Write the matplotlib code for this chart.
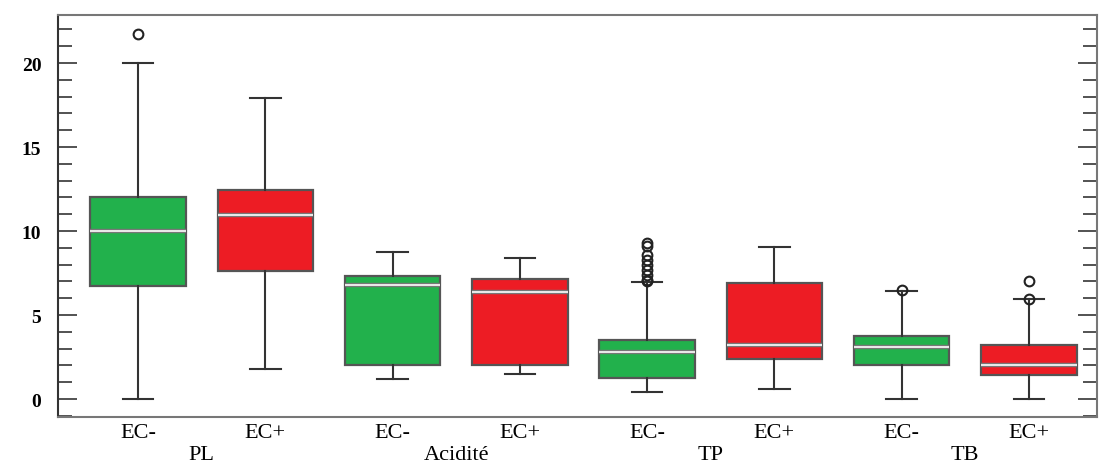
import matplotlib
matplotlib.use("Agg")
import matplotlib.pyplot as plt
import matplotlib.patheffects as pe
from matplotlib.ticker import MultipleLocator

# values
groups = ["PL", "Acidité", "TP", "TB"]
labels = ["EC-", "EC+", "EC-", "EC+", "EC-", "EC+", "EC-", "EC+"]
whislo = [0.0, 1.8, 1.2, 1.5, 0.4, 0.6, 0.0, 0.0]
q1 = [6.7, 7.65, 2.0, 2.0, 1.27, 2.4, 2.0, 1.43]
med = [10.0, 10.95, 6.8, 6.35, 2.82, 3.2, 3.1, 2.05]
q3 = [12.0, 12.45, 7.35, 7.15, 3.52, 6.9, 3.75, 3.2]
whishi = [20.0, 17.9, 8.75, 8.4, 6.95, 9.05, 6.45, 5.95]
fliers = [[21.7], [], [], [],
          [9.3, 9.1, 8.6, 8.3, 8.0, 7.7, 7.4, 7.1, 7.0],
          [], [6.5], [5.95, 7.0]]
colors = ["#22b14c", "#ed1c24"] * 4

stats = []
for i in range(len(labels)):
    stats.append({
        "label": labels[i],
        "whislo": whislo[i],
        "q1": q1[i],
        "med": med[i],
        "q3": q3[i],
        "whishi": whishi[i],
        "fliers": fliers[i],
    })

plt.rcParams["font.family"] = ["Liberation Serif", "DejaVu Serif"]

fig = plt.figure(figsize=(10.99, 4.64), dpi=100)
ax = fig.add_axes([58 / 1099, 46 / 464, 1039 / 1099, 402 / 464])

positions = list(range(1, len(labels) + 1))
bp = ax.bxp(stats, positions=positions, widths=0.75, capwidths=0.24,
            patch_artist=True,
            boxprops=dict(edgecolor="#555555", linewidth=1.6),
            whiskerprops=dict(color="#333333", linewidth=1.5),
            capprops=dict(color="#333333", linewidth=1.5),
            medianprops=dict(color="white", linewidth=1.2,
                             path_effects=[pe.withStroke(linewidth=3.2, foreground="#777777")]),
            flierprops=dict(marker="o", markerfacecolor="none", markeredgecolor="#222222",
                            markersize=7, markeredgewidth=1.5))
for patch, c in zip(bp["boxes"], colors):
    patch.set_facecolor(c)

ax.set_xlim(0.37, 8.535)
ax.set_ylim(-1.07, 22.86)

ax.yaxis.set_major_locator(MultipleLocator(5))
ax.yaxis.set_minor_locator(MultipleLocator(1))
ax.tick_params(axis="y", which="both", direction="in", left=True, right=True,
               color="#444444", width=1.3, labelsize=14, pad=12)
ax.tick_params(axis="y", which="major", length=14)
ax.tick_params(axis="y", which="minor", length=10)
ax.tick_params(axis="x", length=0, labelsize=16, pad=4)
for t in ax.get_yticklabels():
    t.set_fontweight("bold")

# group names under each pair of boxes
for k, g in enumerate(groups):
    ax.text(positions[2 * k] + 0.5, -0.093, g, transform=ax.get_xaxis_transform(),
            ha="center", va="center", fontsize=16)

for side in ["left", "bottom", "top", "right"]:
    ax.spines[side].set_color("#777777")
    ax.spines[side].set_linewidth(1.5)
ax.spines["left"].set_color("#333333")

fig.savefig("out.png", dpi=100)
